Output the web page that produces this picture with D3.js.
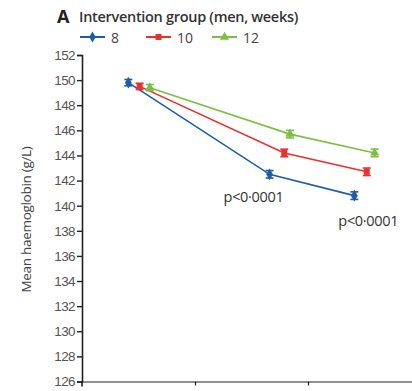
<!DOCTYPE html>
<html>
<head>
<meta charset="utf-8">
<script src="https://cdn.jsdelivr.net/npm/d3@7"></script>
<style>
  body { margin: 0; background: #fff; }
  svg { display: block; font-family: "Open Sans", "Noto Sans", sans-serif; }
</style>
</head>
<body>
<div id="chart"></div>
<script>
// ---- data ----
var seriesNames = ["8", "10", "12"];
var seriesColors = ["#1f5ca6", "#e8302e", "#7cbf45"];
var seriesShapes = ["diamond", "square", "triangle"];
// x position on the time axis (tick units), per series
var xBlue = [0.41, 1.66, 2.41];
var xRed = [0.51, 1.79, 2.52];
var xGreen = [0.60, 1.84, 2.59];
// mean haemoglobin (g/L)
var yBlue = [149.8, 142.5, 140.8];
var yRed = [149.5, 144.2, 142.7];
var yGreen = [149.4, 145.7, 144.2];
// half width of the error bars
var eBlue = [0.25, 0.3, 0.3];
var eRed = [0.25, 0.3, 0.3];
var eGreen = [0.25, 0.3, 0.3];
var yTicks = [126, 128, 130, 132, 134, 136, 138, 140, 142, 144, 146, 148, 150, 152];
var xTicks = [1, 2, 3];
var pLabels = [{ i: 1, text: "p<0·0001" }, { i: 2, text: "p<0·0001" }];

var W = 412, H = 391;
var margin = { left: 82, top: 55, bottom: 10 };

var svg = d3.select("#chart").append("svg")
  .attr("width", W).attr("height", H);

var x = d3.scaleLinear().domain([0, 1]).range([margin.left, margin.left + 113]);
var y = d3.scaleLinear().domain([126, 152]).range([381.5, margin.top]);

// axes
var gy = svg.append("g")
  .attr("transform", "translate(" + margin.left + ",0)")
  .call(d3.axisLeft(y).tickValues(yTicks).tickSize(5).tickSizeOuter(5).tickPadding(2));
gy.select(".domain").attr("stroke", "#222").attr("stroke-width", 1.6);
gy.selectAll(".tick line").attr("stroke", "#222").attr("stroke-width", 1.4);
gy.selectAll(".tick text")
  .attr("fill", "#555").attr("font-size", 13.5).style("letter-spacing", "-0.6px");

var gx = svg.append("g")
  .attr("transform", "translate(0," + y(126) + ")")
  .call(d3.axisBottom(x.copy().domain([0, 3]).range([margin.left, margin.left + 339]))
    .tickValues(xTicks).tickSize(4).tickSizeOuter(0).tickFormat(""));
gx.select(".domain").attr("stroke", "#222").attr("stroke-width", 1.2);
gx.selectAll(".tick line").attr("stroke", "#222").attr("stroke-width", 1.2);
// axis line continues a little below the baseline
svg.append("line")
  .attr("x1", margin.left).attr("x2", margin.left)
  .attr("y1", y(126)).attr("y2", y(126) + 5)
  .attr("stroke", "#222").attr("stroke-width", 1.6);

// y label
svg.append("text")
  .attr("transform", "translate(31," + y(138.9) + ") rotate(-90)")
  .attr("text-anchor", "middle")
  .attr("font-size", 13.5)
  .attr("fill", "#444")
  .style("letter-spacing", "-0.3px")
  .text("Mean haemoglobin (g/L)");

// title
svg.append("text")
  .attr("x", 57).attr("y", 23)
  .attr("font-size", 18).attr("font-weight", "bold").attr("fill", "#222")
  .text("A");
svg.append("text")
  .attr("x", 79).attr("y", 22)
  .attr("font-size", 14.5).attr("font-weight", 600).attr("fill", "#333")
  .style("letter-spacing", "-0.3px")
  .text("Intervention group (men, weeks)");

var series = [
  { xs: xBlue, ys: yBlue, es: eBlue },
  { xs: xRed, ys: yRed, es: eRed },
  { xs: xGreen, ys: yGreen, es: eGreen }
].map(function(s, k) {
  s.name = seriesNames[k]; s.color = seriesColors[k]; s.shape = seriesShapes[k];
  s.pts = s.xs.map(function(v, i) { return { x: v, y: s.ys[i], e: s.es[i] }; });
  return s;
});

var symbolType = {
  diamond: d3.symbolDiamond, square: d3.symbolSquare, triangle: d3.symbolTriangle
};

var line = d3.line().x(function(d) { return x(d.x); }).y(function(d) { return y(d.y); });

series.forEach(function(s) {
  var g = svg.append("g");
  g.append("path").attr("d", line(s.pts))
    .attr("fill", "none").attr("stroke", s.color).attr("stroke-width", 1.6);
  s.pts.forEach(function(d) {
    var cx = x(d.x);
    g.append("line").attr("x1", cx).attr("x2", cx)
      .attr("y1", y(d.y - d.e)).attr("y2", y(d.y + d.e))
      .attr("stroke", s.color).attr("stroke-width", 1.6);
    [d.y - d.e, d.y + d.e].forEach(function(v) {
      g.append("line").attr("x1", cx - 4).attr("x2", cx + 4)
        .attr("y1", y(v)).attr("y2", y(v))
        .attr("stroke", s.color).attr("stroke-width", 1.6);
    });
    g.append("path")
      .attr("transform", "translate(" + cx + "," + y(d.y) + ")")
      .attr("d", d3.symbol().type(symbolType[s.shape]).size(s.shape == "diamond" ? 40 : 36)())
      .attr("fill", s.color);
  });
});

// p value labels under the 8-week series
pLabels.forEach(function(p) {
  var d = series[0].pts[p.i];
  svg.append("text")
    .attr("x", x(d.x) + (p.i == 1 ? -16 : 14))
    .attr("y", y(d.y) + (p.i == 1 ? 28 : 30))
    .attr("text-anchor", "middle")
    .attr("font-size", 14.5).attr("fill", "#333")
    .style("letter-spacing", "-0.3px")
    .text(p.text);
});

// legend
var lg = svg.append("g").attr("transform", "translate(80,37)");
var legX = [0, 66, 132];
series.forEach(function(s, k) {
  var g = lg.append("g").attr("transform", "translate(" + legX[k] + ",0)");
  g.append("line").attr("x1", 0).attr("x2", 25).attr("y1", 0).attr("y2", 0)
    .attr("stroke", s.color).attr("stroke-width", 2);
  g.append("path").attr("transform", "translate(12.5,0)")
    .attr("d", d3.symbol().type(symbolType[s.shape]).size(36)())
    .attr("fill", s.color);
  g.append("text").attr("x", 31).attr("y", 5.5)
    .attr("font-size", 14).attr("fill", "#444")
    .text(s.name);
});
</script>
</body>
</html>
